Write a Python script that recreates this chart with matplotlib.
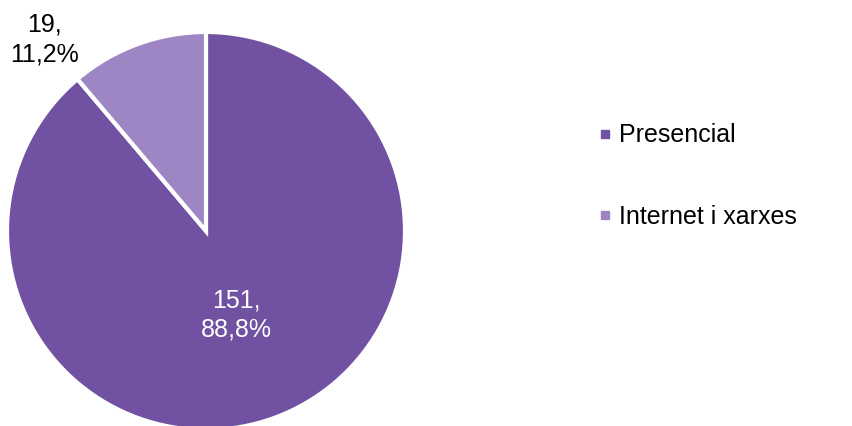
import numpy as np
import matplotlib.pyplot as plt
from matplotlib.lines import Line2D

plt.rcParams['font.family'] = ['Liberation Sans', 'DejaVu Sans']

# Dades
categories = ['Presencial', 'Internet i xarxes']
values = [151, 19]
pct_labels = ['88,8%', '11,2%']
colors = ['#7151A1', '#9E86C4']

fig = plt.figure(figsize=(8.52, 4.26), dpi=100)
ax = fig.add_axes([7 / 852, -4 / 426, 398 / 852, 398 / 426])

wedges, _ = ax.pie(values, colors=colors, startangle=90, counterclock=False,
                   wedgeprops=dict(edgecolor='white', linewidth=3))
ax.set_xlim(-1, 1)
ax.set_ylim(-1, 1)
ax.set_aspect('equal')
ax.axis('off')

# Etiquetes de dades
for i, w in enumerate(wedges):
    txt = f'{values[i]},\n{pct_labels[i]}'
    if i == 0:
        ang = np.deg2rad((w.theta1 + w.theta2) / 2)
        r = 0.45
        col = 'white'
    else:
        # fora del pastís, a la vora amb Presencial
        ang = np.deg2rad(max(w.theta1, w.theta2))
        r = 1.26
        col = 'black'
    ax.text(r * np.cos(ang), r * np.sin(ang), txt, ha='center', va='center',
            color=col, fontsize=18, linespacing=1.3, clip_on=False)

# Llegenda
handles = [Line2D([], [], marker='s', linestyle='none', markersize=6,
                  markerfacecolor=c, markeredgecolor=c) for c in colors]
fig.legend(handles, categories, loc='center left',
           bbox_to_anchor=(589 / 852, 1 - 176 / 426), frameon=False,
           fontsize=18, handlelength=0.5, handletextpad=0.3,
           labelspacing=2.3, borderaxespad=0)

fig.savefig('out.png', dpi=100)
